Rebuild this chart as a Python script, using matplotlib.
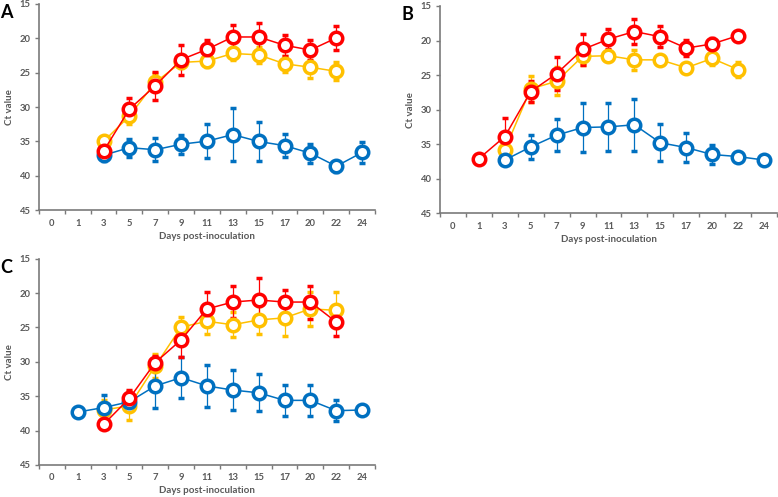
import numpy as np
import matplotlib.pyplot as plt
from matplotlib.ticker import FixedLocator

plt.rcParams['font.family'] = ['Lato', 'DejaVu Sans']

nan = np.nan

# x categories (evenly spaced, Excel style)
days = ["0", "1", "3", "5", "7", "9", "11", "13", "15", "17", "20", "22", "24"]

# Panel A
a_blue = [nan, nan, 37.0, 35.9, 36.2, 35.4, 34.95, 34.0, 35.0, 35.6, 36.7, 38.6, 36.6]
a_blue_err = [nan, nan, 0.8, 1.3, 1.7, 1.4, 2.5, 3.9, 2.9, 1.7, 1.4, 0.8, 1.5]
a_yellow = [nan, nan, 35.0, 31.3, 26.4, 23.5, 23.3, 22.2, 22.4, 23.7, 24.2, 24.8, nan]
a_yellow_err = [nan, nan, 0.5, 1.1, 1.3, 0.8, 0.8, 0.9, 1.2, 1.2, 1.6, 1.3, nan]
a_red = [nan, nan, 36.4, 30.3, 26.9, 23.1, 21.6, 19.8, 19.8, 21.0, 21.7, 19.95, nan]
a_red_err = [nan, nan, 1.0, 1.6, 2.0, 2.2, 1.4, 1.8, 2.0, 1.5, 1.5, 1.7, nan]

# Panel B
b_blue = [nan, nan, 37.3, 35.4, 33.7, 32.6, 32.5, 32.2, 34.8, 35.5, 36.5, 36.8, 37.3]
b_blue_err = [nan, nan, 0.0, 1.7, 2.3, 3.5, 3.5, 3.8, 2.7, 2.1, 1.4, 0.3, 0.0]
b_yellow = [nan, nan, 35.8, 27.0, 25.9, 22.3, 22.2, 22.8, 22.8, 23.95, 22.6, 24.2, nan]
b_yellow_err = [nan, nan, 0.5, 1.9, 2.0, 1.2, 0.8, 1.4, 0.6, 0.6, 1.0, 1.1, nan]
b_red = [nan, 37.1, 33.9, 27.4, 24.8, 21.3, 19.8, 18.7, 19.45, 21.1, 20.5, 19.3, nan]
b_red_err = [nan, 0.0, 2.7, 1.5, 2.4, 2.2, 1.4, 1.8, 1.5, 1.2, 0.8, 0.5, nan]

# Panel C
c_blue = [nan, 37.3, 36.65, 35.8, 33.5, 32.3, 33.5, 34.1, 34.5, 35.6, 35.6, 37.1, 37.0]
c_blue_err = [nan, 0.0, 1.8, 0.5, 3.2, 2.95, 3.1, 2.9, 2.7, 2.3, 2.3, 1.5, 0.0]
c_yellow = [nan, nan, 37.0, 36.4, 30.6, 24.95, 24.1, 24.6, 23.9, 23.6, 22.3, 22.5, nan]
c_yellow_err = [nan, nan, 1.5, 2.1, 1.8, 1.45, 1.8, 1.8, 2.0, 2.7, 2.5, 2.6, nan]
c_red = [nan, nan, 39.1, 35.3, 30.1, 26.8, 22.3, 21.3, 21.0, 21.3, 21.3, 24.2, nan]
c_red_err = [nan, nan, 0.0, 1.2, 1.0, 2.5, 2.5, 2.3, 3.2, 1.8, 2.4, 2.1, nan]

BLUE = "#0070C0"
YELLOW = "#FFC000"
RED = "#FF0000"
GREY = "#595959"
AXIS = "#7a7a7a"

panels = [
    ("A", [0.050, 0.577, 0.432, 0.415], (a_yellow, a_yellow_err), (a_blue, a_blue_err), (a_red, a_red_err)),
    ("B", [0.5656, 0.571, 0.433, 0.417], (b_yellow, b_yellow_err), (b_blue, b_blue_err), (b_red, b_red_err)),
    ("C", [0.050, 0.0644, 0.432, 0.415], (c_yellow, c_yellow_err), (c_blue, c_blue_err), (c_red, c_red_err)),
]

fig = plt.figure(figsize=(7.78, 4.97), dpi=100)
x = np.arange(len(days))

for letter, rect, yel, blu, red in panels:
    ax = fig.add_axes(rect)
    for (vals, err), col in [(yel, YELLOW), (blu, BLUE), (red, RED)]:
        v = np.array(vals, dtype=float)
        e = np.array(err, dtype=float)
        m = ~np.isnan(v)
        ax.errorbar(x[m], v[m], yerr=e[m], color=col, lw=1.1, elinewidth=0.9,
                    capsize=2, capthick=0.9, marker="o", markersize=9,
                    markerfacecolor="white", markeredgecolor=col, markeredgewidth=2.5)
    ax.set_xlim(-0.5, len(days) - 0.5)
    ax.set_ylim(45, 15)
    ax.set_yticks([15, 20, 25, 30, 35, 40, 45])
    ax.set_xticks(x)
    ax.set_xticklabels(days)
    ax.xaxis.set_minor_locator(FixedLocator(np.arange(-0.5, len(days), 1.0)))
    ax.tick_params(axis="x", which="major", length=0, pad=6)
    ax.tick_params(axis="x", which="minor", length=3, width=1.0, color=AXIS, direction="out")
    ax.tick_params(axis="y", length=3, width=1.0, color=AXIS, pad=3)
    for lab in ax.get_xticklabels() + ax.get_yticklabels():
        lab.set_fontsize(6.8)
        lab.set_fontweight("bold")
        lab.set_color(GREY)
    for s in ["top", "right"]:
        ax.spines[s].set_visible(False)
    for s in ["left", "bottom"]:
        ax.spines[s].set_color(AXIS)
        ax.spines[s].set_linewidth(1.2)
    ax.set_xlabel("Days post-inoculation", fontsize=7, fontweight="bold", color=GREY, labelpad=3)
    ax.set_ylabel("Ct value", fontsize=7, fontweight="bold", color=GREY, labelpad=4)
    ax.text(-0.115, 1.0, letter, transform=ax.transAxes, fontsize=13, fontweight="bold",
            ha="left", va="top", color="black")

fig.savefig("out.png", dpi=100)
